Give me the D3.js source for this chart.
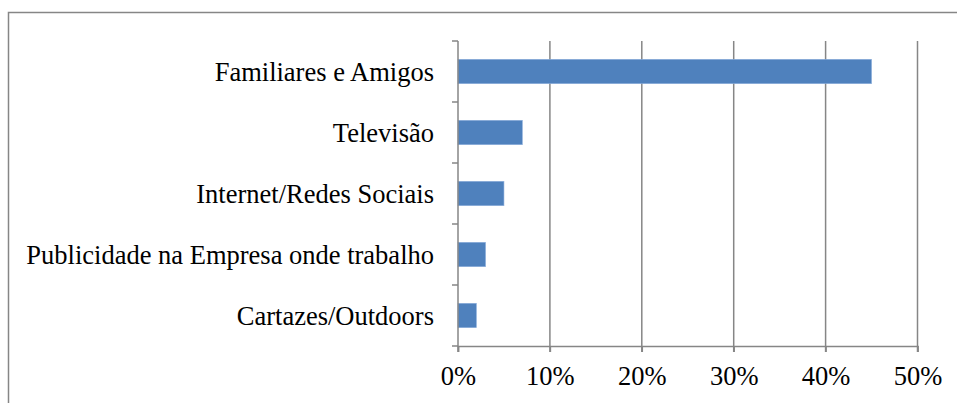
<!DOCTYPE html>
<html>
<head>
<meta charset="utf-8">
<script src="https://cdn.jsdelivr.net/npm/d3@7"></script>
<style>
  body { margin: 0; background: #fff; }
  #chart { width: 957px; height: 403px; }
</style>
</head>
<body>
<div id="chart"></div>
<script>
const categories = [
  "Familiares e Amigos",
  "Televisão",
  "Internet/Redes Sociais",
  "Publicidade na Empresa onde trabalho",
  "Cartazes/Outdoors"
];
const values = [0.45, 0.07, 0.05, 0.03, 0.02];
const xTicks = [0, 0.1, 0.2, 0.3, 0.4, 0.5];

const drawChart = (element) => {
  const width = 957;
  const height = 403;
  const plot = { left: 458, right: 917.5, top: 41, bottom: 346 };
  const gray = "#868686";
  const font = "'Liberation Serif', 'Times New Roman', serif";
  const fontSize = "26.5px";

  const svg = d3
    .select(element)
    .append("svg")
    .attr("width", width)
    .attr("height", height);

  // chart frame
  svg.append("path")
    .attr("d", `M8.5,${height + 2}V12.5H${width + 2}`)
    .attr("fill", "none")
    .attr("stroke", gray)
    .attr("stroke-width", 1.5);

  const x = d3.scaleLinear().domain([0, 0.5]).range([plot.left, plot.right]);
  const y = d3.scaleBand()
    .domain(categories)
    .range([plot.top, plot.bottom])
    .paddingInner(0.6)
    .paddingOuter(0.3);

  // vertical gridlines
  svg.append("g")
    .selectAll("line")
    .data(xTicks.slice(1))
    .join("line")
    .attr("x1", (d) => x(d))
    .attr("x2", (d) => x(d))
    .attr("y1", plot.top)
    .attr("y2", plot.bottom + 6)
    .attr("stroke", gray)
    .attr("stroke-width", 1.5);

  // bars
  svg.append("g")
    .selectAll("rect")
    .data(values)
    .join("rect")
    .attr("x", x(0))
    .attr("y", (d, i) => y(categories[i]))
    .attr("width", (d) => x(d) - x(0))
    .attr("height", y.bandwidth())
    .attr("fill", "#4F81BD")
    .attr("stroke", "#8EB0DC")
    .attr("stroke-width", 0.6);

  // x axis
  const xAxis = svg.append("g")
    .attr("transform", `translate(0,${plot.bottom})`)
    .call(d3.axisBottom(x).tickValues(xTicks).tickFormat(d3.format(".0%")).tickSize(6).tickPadding(14));
  xAxis.select(".domain").attr("stroke", gray).attr("stroke-width", 1.5);
  xAxis.selectAll(".tick line").attr("stroke", gray).attr("stroke-width", 1.5);
  xAxis.selectAll("text")
    .attr("fill", "#000")
    .style("font-family", font)
    .style("font-size", fontSize);

  // y axis with ticks between categories
  const step = y.step();
  const boundaries = d3.range(categories.length + 1).map((i) => plot.top + i * step);
  svg.append("line")
    .attr("x1", plot.left).attr("x2", plot.left)
    .attr("y1", plot.top).attr("y2", plot.bottom + 6)
    .attr("stroke", gray).attr("stroke-width", 1.5);
  svg.append("g")
    .selectAll("line")
    .data(boundaries)
    .join("line")
    .attr("x1", plot.left - 6)
    .attr("x2", plot.left)
    .attr("y1", (d) => d)
    .attr("y2", (d) => d)
    .attr("stroke", gray)
    .attr("stroke-width", 1.5);

  svg.append("g")
    .selectAll("text")
    .data(categories)
    .join("text")
    .attr("x", plot.left - 24)
    .attr("y", (d) => y(d) + y.bandwidth() / 2)
    .attr("dy", "0.36em")
    .attr("text-anchor", "end")
    .style("font-family", font)
    .style("font-size", fontSize)
    .text((d) => d);
};

drawChart(document.getElementById("chart"));
</script>
</body>
</html>
